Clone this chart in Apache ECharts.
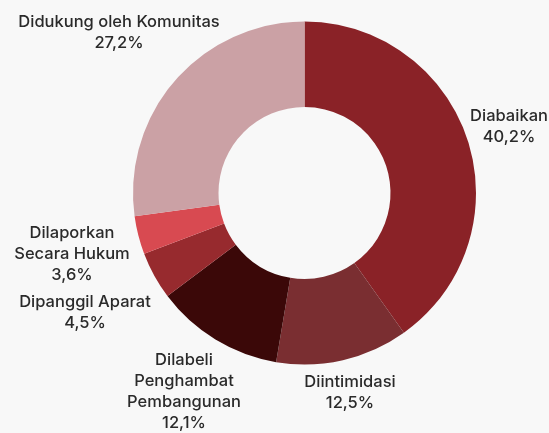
<!DOCTYPE html>
<html>
<head>
<meta charset="utf-8">
<script src="https://cdn.jsdelivr.net/npm/echarts@6/dist/echarts.min.js"></script>
<style>
  html, body { margin: 0; padding: 0; background: #f8f8f8; }
  #chart { width: 549px; height: 433px; }
</style>
</head>
<body>
<div id="chart"></div>
<script>
// kategori dan nilai (persen), searah jarum jam dari atas
const categories = [
  "Diabaikan",
  "Diintimidasi",
  "Dilabeli\nPenghambat\nPembangunan",
  "Dipanggil Aparat",
  "Dilaporkan\nSecara Hukum",
  "Didukung oleh Komunitas",
];
const values = [40.2, 12.5, 12.1, 4.5, 3.6, 27.2];

const colors = ["#8a2227", "#7a2e31", "#3b0808", "#972a2e", "#d84a51", "#cba1a5"];
// posisi tengah tiap label (px)
const labelPos = [
  [509, 127],
  [350, 393],
  [184, 392],
  [85, 313],
  [72, 254],
  [119, 33],
];

let myChart = echarts.init(document.getElementById("chart"));

let pieData = categories.map((name, i) => ({
  name: name,
  value: values[i],
  itemStyle: { color: colors[i] },
}));

let option = {
  backgroundColor: "#f8f8f8",
  animation: false,
  series: [
    {
      type: "pie",
      center: [304.5, 193],
      radius: [86, 171.5],
      startAngle: 90,
      clockwise: true,
      emphasis: { disabled: true },
      label: {
        show: true,
        position: "outside",
        color: "#2a2a2a",
        fontFamily: "Inter",
        fontWeight: 500,
        fontSize: 16.5,
        lineHeight: 21,
        align: "center",
        overflow: "none",
        formatter: function (params) {
          return params.name + "\n" + params.value.toFixed(1).replace(".", ",") + "%";
        },
      },
      labelLine: { show: false },
      labelLayout: function (params) {
        const p = labelPos[params.dataIndex];
        return { x: p[0], y: p[1], align: "center", verticalAlign: "middle" };
      },
      data: pieData,
    },
  ],
};

myChart.setOption(option);
</script>
</body>
</html>
